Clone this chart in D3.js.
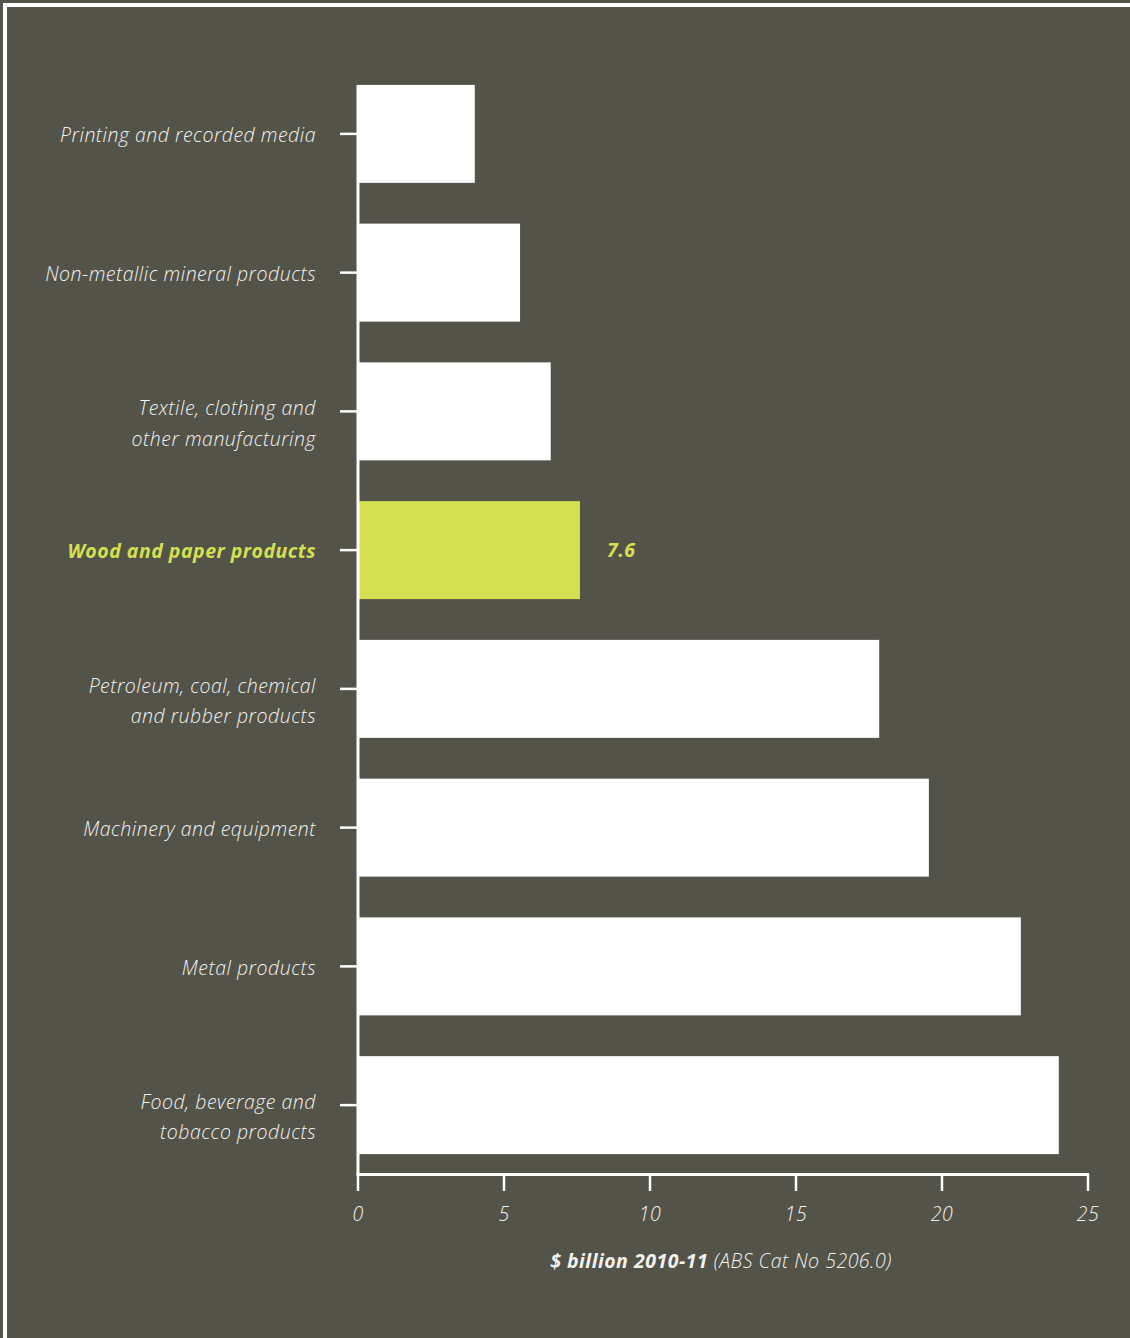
<!DOCTYPE html>
<html>
<head>
<meta charset="utf-8">
<script src="https://cdn.jsdelivr.net/npm/d3@7"></script>
<style>
  html, body { margin: 0; padding: 0; background: #54534a; }
  svg { display: block; }
  text { font-family: "Open Sans", Lato, sans-serif; font-style: italic; letter-spacing: 0.5px; }
</style>
</head>
<body>
<div id="chart"></div>
<script>
// 各行业数据 ($ billion 2010-11)
const categories = [
  ["Printing and recorded media"],
  ["Non-metallic mineral products"],
  ["Textile, clothing and", "other manufacturing"],
  ["Wood and paper products"],
  ["Petroleum, coal, chemical", "and rubber products"],
  ["Machinery and equipment"],
  ["Metal products"],
  ["Food, beverage and", "tobacco products"]
];
const values = [4.0, 5.55, 6.6, 7.6, 17.85, 19.55, 22.7, 24.0];
const highlight = [false, false, false, true, false, false, false, false];
const xTicks = [0, 5, 10, 15, 20, 25];

const width = 1130, height = 1338;
const bg = '#54534a';
const accent = '#d4e04f';
const ink = '#f2f2ee';
const fs = 19.5;

const svg = d3.select('#chart').append('svg')
  .attr('width', width)
  .attr('height', height);

svg.append('rect').attr('width', width).attr('height', height).attr('fill', bg);

// 白色边框 (上、左)
svg.append('line').attr('x1', 3).attr('x2', width).attr('y1', 5).attr('y2', 5)
  .attr('stroke', '#fff').attr('stroke-width', 4);
svg.append('line').attr('x1', 5).attr('x2', 5).attr('y1', 3).attr('y2', height)
  .attr('stroke', '#fff').attr('stroke-width', 4);

const x = d3.scaleLinear().domain([0, 25]).range([358, 1088]);
const y = d3.scaleBand()
  .domain(d3.range(categories.length))
  .range([64.5, 1174.5])
  .paddingInner(0.294)
  .paddingOuter(0.147);

// 条形
svg.append('g').selectAll('rect')
  .data(values)
  .join('rect')
  .attr('x', x(0))
  .attr('y', (d, i) => y(i))
  .attr('width', d => x(d) - x(0))
  .attr('height', y.bandwidth())
  .attr('fill', (d, i) => highlight[i] ? accent : '#ffffff');

// Y轴
svg.append('line')
  .attr('x1', 358).attr('x2', 358)
  .attr('y1', y(0)).attr('y2', 1175)
  .attr('stroke', '#fff').attr('stroke-width', 3);

const yAxis = svg.append('g');
categories.forEach((lines, i) => {
  const cy = y(i) + y.bandwidth() / 2;
  yAxis.append('line')
    .attr('x1', 340).attr('x2', 357)
    .attr('y1', cy).attr('y2', cy)
    .attr('stroke', '#fff').attr('stroke-width', 2.5);
  const t = yAxis.append('text')
    .attr('text-anchor', 'end')
    .attr('font-size', fs)
    .attr('fill', highlight[i] ? accent : ink)
    .attr('font-weight', highlight[i] ? 'bold' : 300);
  const start = lines.length > 1 ? cy - 3 : cy + 1.5;
  lines.forEach((ln, j) => {
    t.append('tspan')
      .attr('x', 316)
      .attr('y', start + j * 30.5)
      .attr('dy', '0.35em')
      .text(ln);
  });
});

// 数值标签
values.forEach((v, i) => {
  if (!highlight[i]) return;
  svg.append('text')
    .attr('x', x(v) + 27)
    .attr('y', y(i) + y.bandwidth() / 2)
    .attr('dy', '0.35em')
    .attr('font-size', fs)
    .attr('font-weight', 'bold')
    .attr('fill', accent)
    .text(v.toFixed(1));
});

// X轴
const xAxis = svg.append('g');
xAxis.append('line')
  .attr('x1', x(0) - 1.5).attr('x2', x(25) + 1)
  .attr('y1', 1174.5).attr('y2', 1174.5)
  .attr('stroke', '#fff').attr('stroke-width', 3);
xTicks.forEach(t => {
  xAxis.append('line')
    .attr('x1', x(t)).attr('x2', x(t))
    .attr('y1', 1174).attr('y2', 1191)
    .attr('stroke', '#fff').attr('stroke-width', 2.5);
  xAxis.append('text')
    .attr('x', x(t))
    .attr('y', 1214)
    .attr('dy', '0.35em')
    .attr('text-anchor', 'middle')
    .attr('font-size', fs)
    .attr('font-weight', 300)
    .attr('fill', ink)
    .text(t);
});

// 轴标题
const title = svg.append('text')
  .attr('x', 721)
  .attr('y', 1261)
  .attr('dy', '0.35em')
  .attr('text-anchor', 'middle')
  .attr('font-size', fs)
  .attr('fill', ink);
title.append('tspan').attr('font-weight', 'bold').text('$ billion 2010-11 ');
title.append('tspan').attr('font-weight', 300).text('(ABS Cat No 5206.0)');
</script>
</body>
</html>
